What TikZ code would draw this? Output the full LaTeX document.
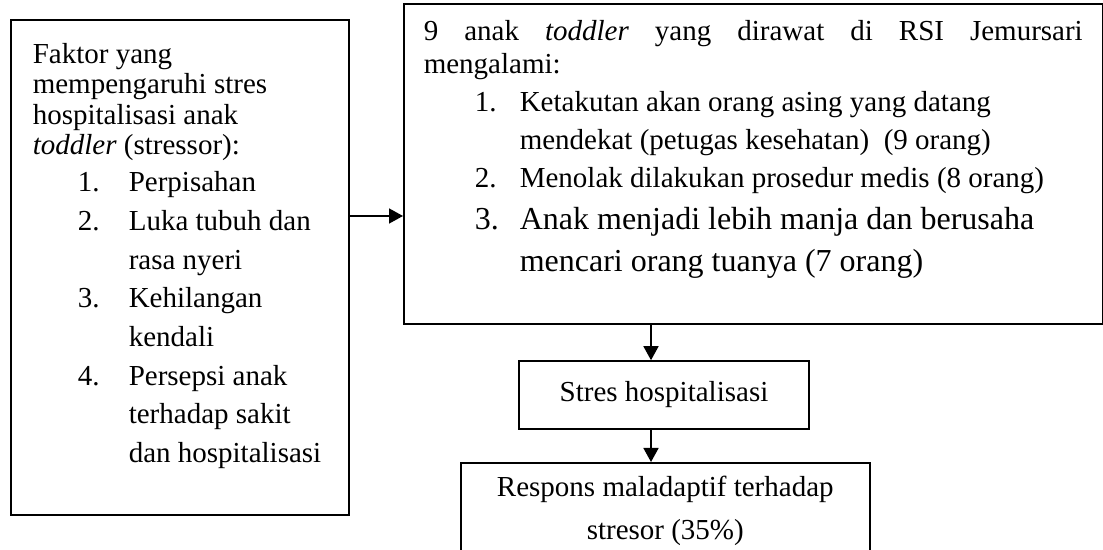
\documentclass[tikz,border=0pt]{standalone}
\usepackage{fontspec}
\setmainfont{Liberation Serif}
\usetikzlibrary{arrows.meta}
\newcommand{\butir}[2][22.5pt]{\hspace*{#1}\makebox[\dimexpr48pt-#1\relax][l]{#2}}
\newcommand{\lanjut}{\hspace*{48pt}}
\begin{document}
\begin{tikzpicture}[x=0.5pt,y=-0.5pt,
    font=\fontsize{14.5pt}{15.25pt}\selectfont,
    kotak/.style={draw, line width=0.8pt},
    panah/.style={line width=0.8pt, -{Triangle[length=7pt,width=7.5pt]}}]
\useasboundingbox (0,0) rectangle (1103,550);
% left box: stressors
\node[kotak, anchor=north west, inner xsep=11pt, inner ysep=11.6pt] (faktor) at (10,19)
  {\parbox[t][224.3pt][t]{147pt}{\raggedright
   Faktor yang\\
   mempengaruhi stres\\
   hospitalisasi anak\\
   \textit{toddler} (stressor):\\[3.3pt]
   \butir{1.}Perpisahan\\[4.1pt]
   \butir{2.}Luka tubuh dan\\[4.1pt]
   \lanjut rasa nyeri\\[4.1pt]
   \butir{3.}Kehilangan\\[4.1pt]
   \lanjut kendali\\[4.1pt]
   \butir{4.}Persepsi anak\\[4.1pt]
   \lanjut terhadap sakit\\[4.1pt]
   \lanjut dan hospitalisasi}};
% right box: what the children showed
\node[kotak, anchor=north west, inner xsep=10pt, inner ysep=8.1pt] (alami) at (403,3)
  {\parbox[t][143.8pt][t]{329.5pt}{\sloppy\hyphenpenalty=10000
   \fontsize{14.5pt}{16.5pt}\selectfont
   9 anak \textit{toddler} yang dirawat di RSI Jemursari\linebreak mengalami:\par
   \fontsize{14.5pt}{19pt}\selectfont
   \butir[25.5pt]{1.}Ketakutan akan orang asing yang datang\\
   \lanjut mendekat (petugas kesehatan)~~(9 orang)\\
   \butir[25.5pt]{2.}Menolak dilakukan prosedur medis (8 orang)\par
   \fontsize{16pt}{21pt}\selectfont
   \butir[25.5pt]{3.}Anak menjadi lebih manja dan berusaha\\
   \lanjut mencari orang tuanya (7 orang)}};
% middle and bottom boxes
\node[kotak, minimum width=145pt, minimum height=34pt, inner sep=0pt] (stres) at (664,395)
  {Stres hospitalisasi};
\node[kotak, anchor=north west, inner xsep=0pt, inner ysep=6.6pt] (respons) at (460,462)
  {\parbox[t][43.3pt][t]{204.5pt}{\centering\fontsize{14.5pt}{21.5pt}\selectfont
   Respons maladaptif terhadap\\ stresor (35\%)}};
% connectors
\coordinate (kiri) at (0,216);
\coordinate (tengah) at (651,0);
\draw[panah] (faktor.east |- kiri) -- (alami.west |- kiri);
\draw[panah] (alami.south -| tengah) -- (stres.north -| tengah);
\draw[panah] (stres.south -| tengah) -- (respons.north -| tengah);
\end{tikzpicture}
\end{document}
